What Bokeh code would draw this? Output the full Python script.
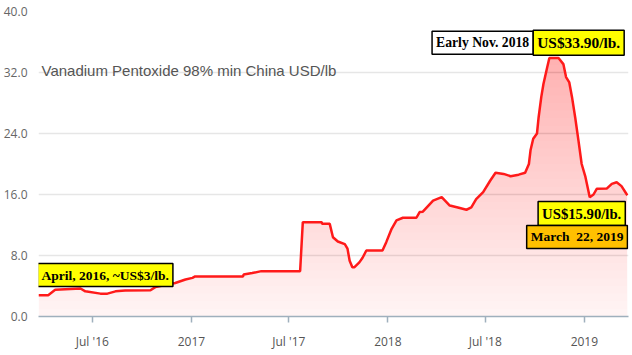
import numpy as np
import pandas as pd
from bokeh.plotting import figure
from bokeh.models import Range1d, FixedTicker, PrintfTickFormatter, Label
from bokeh.embed import file_html
from bokeh.resources import INLINE

# ---- data ----
dates = ["2016-03-23", "2016-04-10", "2016-04-23", "2016-06-09", "2016-06-18", "2016-07-16",
         "2016-07-29", "2016-08-13", "2016-08-31", "2016-10-17", "2016-10-26", "2016-12-02",
         "2016-12-21", "2017-01-03", "2017-01-08", "2017-04-07", "2017-04-08", "2017-04-24",
         "2017-05-11", "2017-07-22", "2017-07-27", "2017-08-31", "2017-09-01", "2017-09-15",
         "2017-09-21", "2017-09-30", "2017-10-13", "2017-10-18", "2017-10-22", "2017-10-27",
         "2017-10-31", "2017-11-09", "2017-11-15", "2017-11-22", "2017-12-22", "2017-12-29",
         "2018-01-08", "2018-01-17", "2018-01-29", "2018-02-23", "2018-03-01", "2018-03-07",
         "2018-03-26", "2018-04-11", "2018-04-26", "2018-05-11", "2018-05-27", "2018-06-05",
         "2018-06-14", "2018-06-27", "2018-07-10", "2018-07-20", "2018-08-04", "2018-08-17",
         "2018-09-01", "2018-09-13", "2018-09-20", "2018-09-23", "2018-09-28", "2018-10-05",
         "2018-10-08", "2018-10-13", "2018-10-17", "2018-10-24", "2018-10-28", "2018-11-14",
         "2018-11-23", "2018-11-28", "2018-12-04", "2018-12-09", "2018-12-15", "2018-12-21",
         "2018-12-27", "2019-01-03", "2019-01-11", "2019-01-18", "2019-01-24", "2019-02-12",
         "2019-02-21", "2019-03-02", "2019-03-11", "2019-03-20", "2019-03-22"]
price = [2.8, 2.8, 3.5, 3.67, 3.3, 3.0,
         3.0, 3.3, 3.4, 3.45, 3.85, 4.4,
         4.85, 5.07, 5.25, 5.25, 5.5, 5.7,
         5.95, 5.95, 12.37, 12.37, 12.15, 12.15,
         10.4, 9.84, 9.5, 8.9, 7.3, 6.47,
         6.47, 7.1, 7.7, 8.65, 8.65, 9.75,
         11.5, 12.6, 12.95, 12.95, 13.7, 13.75,
         15.2, 15.65, 14.55, 14.3, 14.0, 14.3,
         15.4, 16.3, 17.8, 18.85, 18.7, 18.4,
         18.6, 18.85, 20.0, 21.8, 23.3, 24.0,
         26.1, 28.8, 30.5, 32.7, 33.9, 33.9,
         33.1, 31.4, 30.7, 28.8, 26.1, 23.1,
         20.0, 18.3, 15.65, 16.0, 16.75, 16.8,
         17.4, 17.6, 17.1, 16.1, 15.9]

x_tick_dates = ["2016-07-01", "2017-01-01", "2017-07-01", "2018-01-01", "2018-07-01", "2019-01-01"]
x_tick_labels = ["Jul '16", "2017", "Jul '17", "2018", "Jul '18", "2019"]
y_ticks = [0, 8, 16, 24, 32, 40]

title_text = "Vanadium Pentoxide 98% min China USD/lb"

# ---- build ----
x = pd.to_datetime(dates)
vals = np.array(price, dtype=float)

def ms(s):
    return pd.Timestamp(s).value / 1e6

p = figure(width=632, height=355, x_axis_type="datetime", output_backend="svg",
           toolbar_location=None, x_range=Range1d(ms("2016-03-23"), ms("2019-03-24")),
           y_range=Range1d(0, 40), min_border_left=38, min_border_right=4,
           min_border_top=11, min_border_bottom=39)
p.outline_line_color = None
p.background_fill_color = "white"
p.border_fill_color = "white"

# gradient-like fill (denser pink at higher values)
p.varea(x=x, y1=0, y2=vals, fill_color="#ff0000", fill_alpha=0.045)
for lv in range(1, 35):
    p.varea(x=x, y1=lv, y2=np.maximum(vals, lv), fill_color="#ff0000", fill_alpha=0.0065)

p.line(x, vals, line_color="#ff1a1a", line_width=2.5)

# axes
p.xgrid.grid_line_color = None
p.ygrid.grid_line_color = "#e6e6e6"
p.ygrid.grid_line_width = 1.5
p.yaxis.ticker = FixedTicker(ticks=y_ticks)
p.ygrid.ticker = FixedTicker(ticks=y_ticks)
p.yaxis.formatter = PrintfTickFormatter(format="%.1f")
p.yaxis.axis_line_color = None
p.yaxis.major_tick_line_color = None
p.yaxis.minor_tick_line_color = None
p.yaxis.major_tick_in = 0
p.yaxis.major_tick_out = 0
p.yaxis.minor_tick_in = 0
p.yaxis.minor_tick_out = 0
p.yaxis.major_label_text_font = "Open Sans"
p.yaxis.major_label_text_font_size = "12px"
p.yaxis.major_label_text_color = "#666666"
p.yaxis.major_label_standoff = 11

xt = [ms(d) for d in x_tick_dates]
p.xaxis.ticker = FixedTicker(ticks=xt)
p.xaxis.major_label_overrides = {t: l for t, l in zip(xt, x_tick_labels)}
p.xaxis.axis_line_color = "#9fb0bd"
p.xaxis.axis_line_width = 1.5
p.xaxis.major_tick_line_color = "#9fb0bd"
p.xaxis.major_tick_line_width = 1.5
p.xaxis.major_tick_in = 0
p.xaxis.major_tick_out = 6
p.xaxis.minor_tick_line_color = None
p.xaxis.major_label_text_font = "Open Sans"
p.xaxis.major_label_text_font_size = "12px"
p.xaxis.major_label_text_color = "#555555"
p.xaxis.major_label_standoff = 10

# title inside the plot
p.add_layout(Label(x=ms("2016-03-23"), y=32.3, x_offset=3, text=title_text,
                   text_font="Liberation Sans", text_font_size="15px", text_color="#555555",
                   text_baseline="middle", text_align="left"))

serif = "Liberation Serif"
def box(xd, yv, txt, size, bg, align, xo):
    p.add_layout(Label(x=ms(xd), y=yv, x_offset=xo, text=txt, text_font=serif,
                       text_font_size=size, text_font_style="bold", text_color="black",
                       text_align=align, text_baseline="middle",
                       background_fill_color=bg, border_line_color="black",
                       border_line_width=1.5, padding=4))

box("2016-03-23", 5.44, "April, 2016, ~US$3/lb.", "13.5px", "#ffff00", "left", -1)
box("2018-09-28", 35.9, "Early Nov. 2018", "13.7px", "white", "right", 0)
box("2018-09-28", 35.9, "US$33.90/lb.", "15.4px", "#ffff00", "left", 0)
box("2019-03-18", 13.5, "US$15.90/lb.", "14.7px", "#ffff00", "right", 0)
box("2019-03-22", 10.43, "March\u00a0\u00a022, 2019", "13.5px", "#ffc000", "right", 0)

open("out.html", "w").write(file_html(p, INLINE))
